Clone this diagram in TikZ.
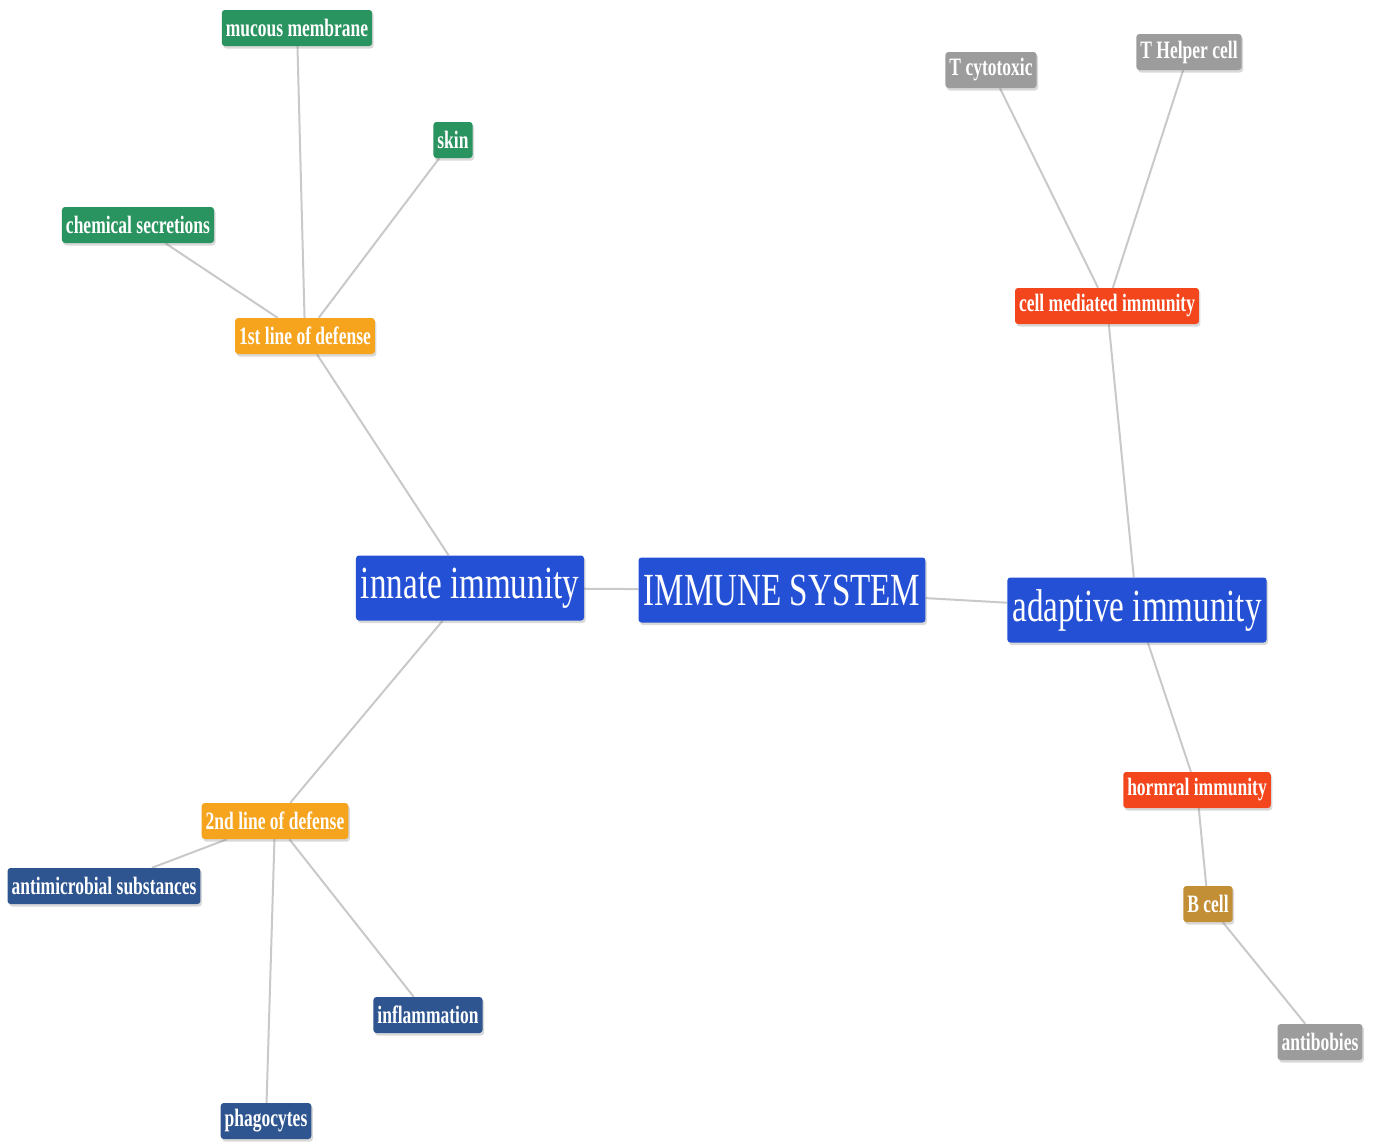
\documentclass[tikz,border=0pt]{standalone}
\usepackage{fontspec}
\setmainfont{Liberation Serif}[FakeStretch=0.72]
\newfontfamily\smallfnt{Liberation Serif}[FakeStretch=0.70]
\usetikzlibrary{shadows,backgrounds}
\definecolor{cgreen}{HTML}{2A9460}
\definecolor{corange}{HTML}{F6A31E}
\definecolor{cblue}{HTML}{2450D6}
\definecolor{cnavy}{HTML}{2E5590}
\definecolor{cred}{HTML}{F4461C}
\definecolor{cgray}{HTML}{9C9C9C}
\definecolor{cgold}{HTML}{C28E36}
\definecolor{cedge}{HTML}{C9C9C9}
\begin{document}
\begin{tikzpicture}[x=1pt,y=-1pt,
  box/.style={rounded corners=3pt, text=white, inner xsep=4pt, inner ysep=0pt,
    minimum height=36pt, font=\smallfnt\bfseries\fontsize{25}{25}\selectfont,
    drop shadow={shadow xshift=1.5pt, shadow yshift=-2.5pt, opacity=0.3}},
  big/.style={box, minimum height=65pt, inner xsep=5pt, font=\rmfamily\fontsize{46}{46}\selectfont},
  edge/.style={draw=cedge, line width=2pt}]
\useasboundingbox (0,0) rectangle (1375,1143);
\node[box, fill=cgreen] (mm) at (297,28) {mucous membrane};
\node[box, fill=cgreen] (skin) at (453,140) {skin};
\node[box, fill=cgreen] (chem) at (138,225) {chemical secretions};
\node[box, fill=corange] (l1) at (305,336) {1st line of defense};
\node[big, fill=cblue] (innate) at (470,588) {innate immunity};
\node[big, fill=cblue] (imm) at (782,590) {IMMUNE SYSTEM};
\node[big, fill=cblue] (adapt) at (1137,610) {adaptive immunity};
\node[box, fill=cgray] (tcyt) at (991,70) {T cytotoxic};
\node[box, fill=cgray] (thelp) at (1189,52) {T Helper cell};
\node[box, fill=cred] (cmi) at (1107,306) {cell mediated immunity};
\node[box, fill=cred] (horm) at (1197,790) {hormral immunity};
\node[box, fill=cgold] (bcell) at (1208,904) {B cell};
\node[box, fill=cgray] (anti) at (1320,1042) {antibobies};
\node[box, fill=corange] (l2) at (275,821) {2nd line of defense};
\node[box, fill=cnavy] (amic) at (104,886) {antimicrobial substances};
\node[box, fill=cnavy] (infl) at (428,1015) {inflammation};
\node[box, fill=cnavy] (phag) at (266,1121) {phagocytes};
\begin{scope}[on background layer]
\draw[edge] (mm) -- (l1);
\draw[edge] (skin) -- (l1);
\draw[edge] (chem) -- (l1);
\draw[edge] (l1) -- (innate);
\draw[edge] (innate) -- (imm);
\draw[edge] (imm) -- (adapt);
\draw[edge] (innate) -- (l2);
\draw[edge] (l2) -- (amic);
\draw[edge] (l2) -- (infl);
\draw[edge] (l2) -- (phag);
\draw[edge] (adapt) -- (cmi);
\draw[edge] (cmi) -- (tcyt);
\draw[edge] (cmi) -- (thelp);
\draw[edge] (adapt) -- (horm);
\draw[edge] (horm) -- (bcell);
\draw[edge] (bcell) -- (anti);
\end{scope}
\end{tikzpicture}
\end{document}
